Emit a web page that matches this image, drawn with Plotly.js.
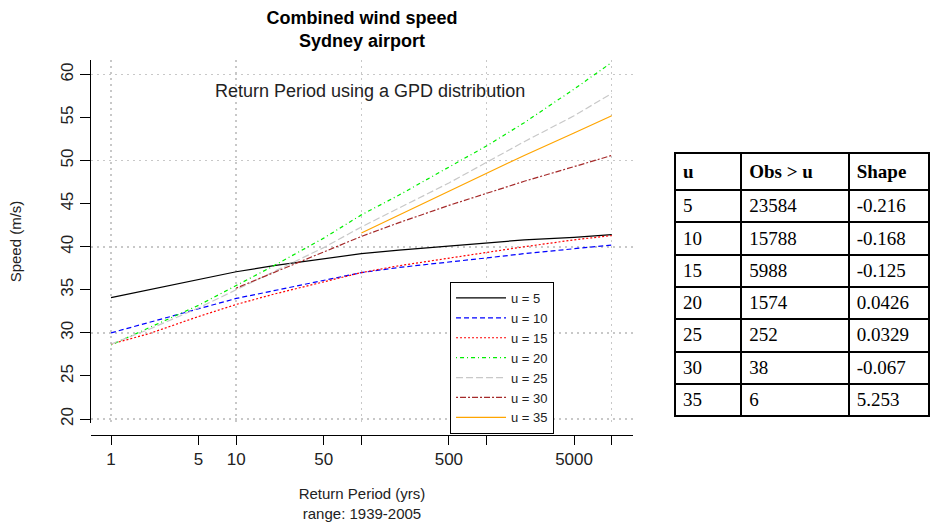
<!DOCTYPE html>
<html>
<head>
<meta charset="utf-8">
<script src="https://cdn.plot.ly/plotly-3.0.1.min.js"></script>
<style>html,body{margin:0;padding:0;background:#fff;}#chart{width:933px;height:523px;}</style>
</head>
<body>
<div id="chart"></div>
<script>
// ---- data ----
const returnPeriods = [1, 2, 5, 10, 20, 50, 100, 200, 500, 1000, 2000, 5000, 10000];
const speedU5  = [34.1, 35.0, 36.2, 37.1, 37.8, 38.6, 39.2, 39.6, 40.1, 40.5, 40.8, 41.1, 41.4];
const speedU10 = [30.0, 31.2, 32.8, 34.0, 34.9, 36.1, 37.0, 37.6, 38.2, 38.7, 39.2, 39.8, 40.2];
const speedU15 = [28.7, 29.9, 31.9, 33.3, 34.5, 35.9, 37.0, 37.8, 38.7, 39.4, 40.0, 40.8, 41.3];
const speedU20 = [28.6, 30.6, 33.2, 35.5, 37.8, 41.0, 43.7, 46.0, 49.2, 51.7, 54.4, 58.3, 61.4];
const speedU25 = [28.7, 30.4, 32.9, 35.0, 37.1, 39.9, 42.3, 44.5, 47.4, 49.8, 52.2, 55.2, 57.8];
const speedU30 = [null, null, null, 35.2, 37.0, 39.4, 41.2, 42.8, 44.8, 46.2, 47.6, 49.3, 50.6];
const speedU35 = [null, null, null, null, null, null, 41.6, 43.7, 46.4, 48.5, 50.6, 53.2, 55.2];

const thresholds = [5, 10, 15, 20, 25, 30, 35];
const obsAbove = [23584, 15788, 5988, 1574, 252, 38, 6];
const shapeParams = [-0.216, -0.168, -0.125, 0.0426, 0.0329, -0.067, 5.253];

const xTickVals = [1, 5, 10, 50, 100, 500, 1000, 5000, 10000];
const xTickText = ['1', '5', '10', '50', '', '500', '', '5000', ''];
const xGridVals = [1, 10, 100, 1000, 10000];
const yTickVals = [20, 25, 30, 35, 40, 45, 50, 55, 60];
const yGridVals = [20, 30, 40, 50, 60];

// ---- styling ----
const seriesSpeeds = [speedU5, speedU10, speedU15, speedU20, speedU25, speedU30, speedU35];
const seriesColors = ['#000000', '#0000FF', '#FF0000', '#00EE00', '#C8C8C8', '#A52A2A', '#FFA500'];
const seriesDash = ['solid', '5px,3px', '2px,2px', '1px,3px,4px,3px', '7px,3px', '2px,2px,6px,2px', 'solid'];

const FONT = 'Liberation Sans, Arial, sans-serif';
const traces = seriesSpeeds.map((s, i) => ({
  type: 'scatter', mode: 'lines',
  x: returnPeriods, y: s,
  name: 'u = ' + thresholds[i],
  line: {color: seriesColors[i], width: 1.2, dash: seriesDash[i]},
  connectgaps: false,
  xaxis: 'x', yaxis: 'y'
}));

// empty helper trace so the overlay grid axes are drawn
traces.unshift({
  type: 'scatter', mode: 'lines', x: [], y: [],
  xaxis: 'x2', yaxis: 'y2', showlegend: false, hoverinfo: 'skip'
});

traces.push({
  type: 'table',
  domain: {x: [0.6936, 0.9955], y: [0.03, 0.752]},
  columnwidth: [66, 107, 80],
  header: {
    values: ['<b>u</b>', '<b>Obs &gt; u</b>', '<b>Shape</b>'],
    align: 'left', height: 33,
    line: {color: '#000', width: 2},
    fill: {color: '#fff'},
    font: {family: 'Liberation Serif, Times New Roman, serif', size: 19, color: '#000'}
  },
  cells: {
    values: [thresholds, obsAbove, shapeParams],
    align: 'left', height: 32.3,
    line: {color: '#000', width: 2},
    fill: {color: '#fff'},
    font: {family: 'Liberation Serif, Times New Roman, serif', size: 19, color: '#000'}
  }
});

const xRange = [-0.16, 4.17];
const yRange = [19.54, 61.68];
const gridStyle = {showgrid: true, gridcolor: '#C8C8C8', gridwidth: 1.5, griddash: '2px,4px'};

const layout = {
  width: 933, height: 523,
  margin: {l: 91, r: 0, t: 60, b: 88},
  paper_bgcolor: '#fff', plot_bgcolor: '#fff',
  font: {family: FONT, color: '#000', size: 16},
  showlegend: true,
  title: {
    text: '<b>Combined wind speed</b><br><b>Sydney airport</b>',
    x: 0.3219, xref: 'paper', xanchor: 'center',
    y: 0.955, yref: 'container', yanchor: 'middle',
    font: {family: FONT, size: 18, color: '#000'}
  },
  xaxis: {
    type: 'log', range: xRange, domain: [0, 0.6437],
    anchor: 'free', position: 0,
    tickmode: 'array', tickvals: xTickVals, ticktext: xTickText,
    ticks: 'outside', ticklen: 9, tickcolor: '#000', tickwidth: 1,
    showline: true, linecolor: '#000', linewidth: 1,
    showgrid: false, zeroline: false,
    tickfont: {family: FONT, size: 17, color: '#222'},
    title: {text: 'Return Period (yrs)<br>range: 1939-2005', standoff: 20,
            font: {family: FONT, size: 15, color: '#222'}}
  },
  xaxis2: Object.assign({
    type: 'log', range: xRange, domain: [0, 0.6437],
    overlaying: 'x', anchor: 'y',
    tickmode: 'array', tickvals: xGridVals,
    showticklabels: false, ticks: '', showline: false, zeroline: false
  }, gridStyle),
  yaxis: {
    range: yRange, domain: [0.032, 1], anchor: 'x',
    tickmode: 'array', tickvals: yTickVals,
    ticks: 'outside', ticklen: 10, tickcolor: '#000', tickwidth: 1,
    tickangle: -90,
    showline: true, linecolor: '#000', linewidth: 1,
    showgrid: false, zeroline: false,
    tickfont: {family: FONT, size: 17, color: '#222'},
    title: {text: 'Speed (m/s)', standoff: 32, font: {family: FONT, size: 15, color: '#222'}}
  },
  yaxis2: Object.assign({
    range: yRange, domain: [0.032, 1],
    overlaying: 'y', anchor: 'x',
    tickmode: 'array', tickvals: yGridVals,
    showticklabels: false, ticks: '', showline: false, zeroline: false
  }, gridStyle),
  legend: {
    x: 0.4264, y: 0.408, xanchor: 'left', yanchor: 'top',
    bgcolor: '#fff', bordercolor: '#000', borderwidth: 1,
    font: {family: FONT, size: 13, color: '#222'},
    itemwidth: 50,
    tracegroupgap: 0
  },
  annotations: [{
    text: 'Return Period using a GPD distribution',
    xref: 'paper', yref: 'paper', x: 0.3314, y: 0.917,
    xanchor: 'center', yanchor: 'middle', showarrow: false,
    font: {family: FONT, size: 18, color: '#222'}
  }]
};

Plotly.newPlot('chart', traces, layout, {displayModeBar: false, staticPlot: true});
</script>
</body>
</html>
